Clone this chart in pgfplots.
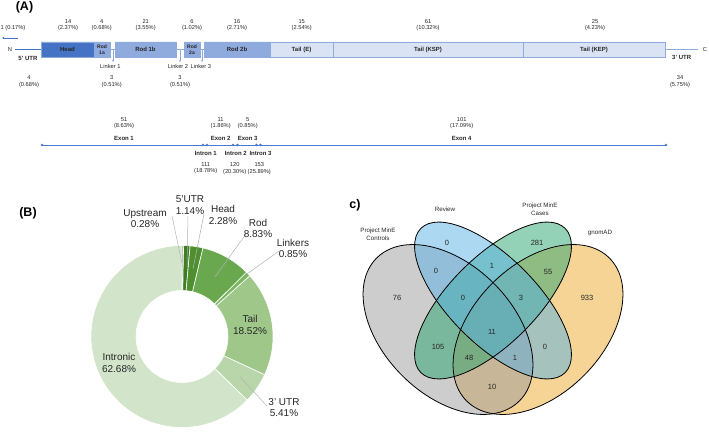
\documentclass[border=0pt]{standalone}
\usepackage{pgfplots}
\pgfplotsset{compat=1.18}
\usetikzlibrary{calc,arrows.meta}
\usepackage{fontspec}
\setmainfont{Liberation Sans}
\definecolor{headc}{HTML}{4472C4}
\definecolor{rodc}{HTML}{8FAADC}
\definecolor{tailc}{HTML}{DAE3F3}
\definecolor{lnc}{HTML}{4A7BD0}
\definecolor{txt}{HTML}{262626}
\definecolor{gA}{HTML}{38761D}
\definecolor{gB}{HTML}{3F7D24}
\definecolor{gC}{HTML}{4E8F30}
\definecolor{gD}{HTML}{6AA84F}
\definecolor{gE}{HTML}{7DB763}
\definecolor{gF}{HTML}{9FC78A}
\definecolor{gG}{HTML}{B8D6A9}
\definecolor{gH}{HTML}{D2E4C9}
\definecolor{vgrey}{RGB}{155,155,155}
\definecolor{vblue}{RGB}{89,177,229}
\definecolor{vgreen}{RGB}{41,165,111}
\definecolor{vorange}{RGB}{235,169,45}
\tikzset{
 sm/.style={font=\fontsize{5.7bp}{6.6bp}\selectfont, align=center, inner sep=0pt, text=txt},
 smb/.style={font=\fontsize{6bp}{6.6bp}\selectfont\bfseries, align=center, inner sep=0pt, text=txt},
 rb/.style={font=\fontsize{5bp}{6bp}\selectfont\bfseries, align=center, inner sep=0pt, text=txt},
 pl/.style={font=\fontsize{10bp}{11.7bp}\selectfont, align=center, inner sep=0pt, text=txt},
 vt/.style={font=\fontsize{6.2bp}{7.6bp}\selectfont, align=center, inner sep=0pt, text=txt},
 vn/.style={font=\fontsize{7.5bp}{8bp}\selectfont, inner sep=0pt, text=txt},
 pan/.style={font=\fontsize{12.5bp}{13bp}\selectfont\bfseries, inner sep=0pt, text=black},
 lead/.style={draw=black!30, line width=0.5bp},
}
% donut slice: start (cumulative %), value (%), colour
\newcommand{\donutslice}[3]{%
 \fill[#3, draw=white, line width=0.6bp]
  ($(axis cs:182,336.5)+({90-3.6*#1}:91bp)$)
  arc[start angle={90-3.6*#1}, end angle={90-3.6*(#1+#2)}, radius=91bp]
  -- ($(axis cs:182,336.5)+({90-3.6*(#1+#2)}:46bp)$)
  arc[start angle={90-3.6*(#1+#2)}, end angle={90-3.6*#1}, radius=46bp] -- cycle;}
\newcommand{\vellipse}[6]{% x,y,angle,a,b,style
 \path[#6, rotate around={#3:(axis cs:#1,#2)}] (axis cs:#1,#2) ellipse [x radius=#4bp, y radius=#5bp];}
\begin{document}
\begin{tikzpicture}
\begin{axis}[width=709bp,height=432bp,scale only axis,
  xmin=0,xmax=709,ymin=0,ymax=432,y dir=reverse,hide axis,clip=false]
\coordinate (TL) at (axis cs:0,0);
\coordinate (BR) at (axis cs:709,432);
% ---------- Panel A: protein ----------
\addplot[rodc, line width=0.7bp] coordinates {(41,49.5) (665,49.5)};
\addplot[headc, line width=0.8bp] coordinates {(15,49.5) (41,49.5)};
\addplot[rodc, line width=0.6bp] coordinates {(665,49.5) (698,49.5)};
\addplot[fill=headc, draw=rodc, line width=0.5bp] coordinates {(41,42) (94,42) (94,57) (41,57) (41,42)};
\addplot[fill=rodc, draw=rodc, line width=0.5bp] coordinates {(94,42) (110,42) (110,57) (94,57) (94,42)};
\addplot[fill=rodc, draw=rodc, line width=0.5bp] coordinates {(115,42) (176,42) (176,57) (115,57) (115,42)};
\addplot[fill=rodc, draw=rodc, line width=0.5bp] coordinates {(184,42) (200,42) (200,57) (184,57) (184,42)};
\addplot[fill=rodc, draw=rodc, line width=0.5bp] coordinates {(204,42) (270,42) (270,57) (204,57) (204,42)};
\addplot[fill=tailc, draw=rodc, line width=0.5bp] coordinates {(270,42) (333,42) (333,57) (270,57) (270,42)};
\addplot[fill=tailc, draw=rodc, line width=0.5bp] coordinates {(333,42) (523,42) (523,57) (333,57) (333,42)};
\addplot[fill=tailc, draw=rodc, line width=0.5bp] coordinates {(523,42) (665,42) (665,57) (523,57) (523,42)};
% linker arrows
\addplot[rodc, line width=0.6bp, -{Stealth[length=2.2bp,width=2bp]}] coordinates {(113,50) (113,62)};
\addplot[rodc, line width=0.6bp, -{Stealth[length=2.2bp,width=2bp]}] coordinates {(180,50) (180,62)};
\addplot[rodc, line width=0.6bp, -{Stealth[length=2.2bp,width=2bp]}] coordinates {(202,50) (202,62)};
\addplot[headc, line width=0.8bp, -{Stealth[length=2.5bp,width=2.2bp]}] coordinates {(18,38) (2,38)};
% exon line
\addplot[lnc, line width=0.8bp] coordinates {(42,145) (666,145)};
\addplot[only marks, mark=*, mark size=1.1bp, lnc] coordinates {(42,145) (203,145) (207,145) (233,145) (237.5,145) (256.5,145) (260.5,145) (666,145)};
% ---------- Panel B: donut ----------
\donutslice{0}{0.28}{gA}
\donutslice{0.28}{1.14}{gB}
\donutslice{1.42}{2.28}{gC}
\donutslice{3.70}{8.83}{gD}
\donutslice{12.53}{0.85}{gE}
\donutslice{13.38}{18.52}{gF}
\donutslice{31.90}{5.41}{gG}
\donutslice{37.31}{62.69}{gH}
\addplot[lead] coordinates {(172,216) (183,268)};
\addplot[lead] coordinates {(188,216) (187,267)};
\addplot[lead] coordinates {(204,214) (193,269)};
\addplot[lead] coordinates {(246,234) (215,277)};
\addplot[lead] coordinates {(279,251) (247,274)};
\addplot[lead] coordinates {(267,406) (240,377)};
% ---------- Panel C: Venn ----------
\vellipse{538}{329.5}{45}{101}{65}{fill=vorange, fill opacity=0.5}
\vellipse{448}{329.5}{-45}{101}{65}{fill=vgrey, fill opacity=0.5}
\vellipse{493}{300.5}{45}{102}{43.5}{fill=vgreen, fill opacity=0.5}
\vellipse{493}{300.5}{-45}{102}{43.5}{fill=vblue, fill opacity=0.5}
\vellipse{538}{329.5}{45}{101}{65}{draw=black, line width=0.8bp}
\vellipse{448}{329.5}{-45}{101}{65}{draw=black, line width=0.8bp}
\vellipse{493}{300.5}{45}{102}{43.5}{draw=black, line width=0.8bp}
\vellipse{493}{300.5}{-45}{102}{43.5}{draw=black, line width=0.8bp}
% ---------- Text ----------
\node[pan] at (axis cs:24.5,7.5) {(A)};
\node[pan] at (axis cs:28,213) {(B)};
\node[pan] at (axis cs:355,205) {c)};
% panel A top numbers
\node[sm] at (axis cs:13,28.3) {1 (0.17\%)};
\node[sm] at (axis cs:68,25) {14\\(2.37\%)};
\node[sm] at (axis cs:101.7,25) {4\\(0.68\%)};
\node[sm] at (axis cs:145.7,25) {21\\(3.55\%)};
\node[sm] at (axis cs:192,25) {6\\(1.02\%)};
\node[sm] at (axis cs:237,25) {16\\(2.71\%)};
\node[sm] at (axis cs:301.7,25) {15\\(2.54\%)};
\node[sm] at (axis cs:428,25) {61\\(10.32\%)};
\node[sm] at (axis cs:595,25) {25\\(4.23\%)};
% segment labels
\node[smb] at (axis cs:67.5,49.5) {Head};
\node[rb] at (axis cs:102,49.5) {Rod\\1a};
\node[smb] at (axis cs:145.5,49.5) {Rod 1b};
\node[rb] at (axis cs:192,49.5) {Rod\\2a};
\node[smb] at (axis cs:237,49.5) {Rod 2b};
\node[smb] at (axis cs:301.5,49.5) {Tail (E)};
\node[smb] at (axis cs:428,49.5) {Tail (KSP)};
\node[smb] at (axis cs:594,49.5) {Tail (KEP)};
\node[sm] at (axis cs:10,49.5) {N};
\node[sm] at (axis cs:705,49.5) {C};
\node[smb] at (axis cs:28,58.3) {5' UTR};
\node[smb] at (axis cs:681.7,57) {3' UTR};
\node[sm] at (axis cs:110.3,66.7) {Linker 1};
\node[sm] at (axis cs:178,66.7) {Linker 2};
\node[sm] at (axis cs:200.8,66.7) {Linker 3};
\node[sm] at (axis cs:29,81.7) {4\\(0.68\%)};
\node[sm] at (axis cs:111.7,81.7) {3\\(0.51\%)};
\node[sm] at (axis cs:180,81.7) {3\\(0.51\%)};
\node[sm] at (axis cs:680,81.7) {34\\(5.75\%)};
% exons / introns
\node[sm] at (axis cs:124,123.2) {51\\(8.63\%)};
\node[sm] at (axis cs:220.7,123.2) {11\\(1.86\%)};
\node[sm] at (axis cs:247.7,123.2) {5\\(0.85\%)};
\node[sm] at (axis cs:461.7,123.2) {101\\(17.09\%)};
\node[smb] at (axis cs:124,138.3) {Exon 1};
\node[smb] at (axis cs:220.7,138.3) {Exon 2};
\node[smb] at (axis cs:247.7,138.3) {Exon 3};
\node[smb] at (axis cs:461.7,138.3) {Exon 4};
\node[smb] at (axis cs:205.8,153.3) {Intron 1};
\node[smb] at (axis cs:235.8,153.3) {Intron 2};
\node[smb] at (axis cs:260.5,153.3) {Intron 3};
\node[sm] at (axis cs:205.8,168.3) {111\\(18.78\%)};
\node[sm] at (axis cs:234.7,168.3) {120\\(20.30\%)};
\node[sm] at (axis cs:259.3,168.3) {153\\(25.89\%)};
% donut labels
\node[pl] at (axis cs:145,218.5) {Upstream\\0.28\%};
\node[pl] at (axis cs:190,205) {5'UTR\\1.14\%};
\node[pl] at (axis cs:223,215) {Head\\2.28\%};
\node[pl] at (axis cs:258,228.5) {Rod\\8.83\%};
\node[pl] at (axis cs:293,248.5) {Linkers\\0.85\%};
\node[pl] at (axis cs:250,325) {Tail\\18.52\%};
\node[pl] at (axis cs:119,363) {Intronic\\62.68\%};
\node[pl] at (axis cs:284,407.5) {3' UTR\\5.41\%};
% venn labels
\node[vt] at (axis cs:378,234) {Project MinE\\Controls};
\node[vt] at (axis cs:445,209) {Review};
\node[vt] at (axis cs:540,209) {Project MinE\\Cases};
\node[vt] at (axis cs:600,233) {gnomAD};
\node[vn] at (axis cs:447,243) {0};
\node[vn] at (axis cs:537,243) {281};
\node[vn] at (axis cs:436,271) {0};
\node[vn] at (axis cs:492,266) {1};
\node[vn] at (axis cs:548,272) {55};
\node[vn] at (axis cs:397,298) {76};
\node[vn] at (axis cs:463,298) {0};
\node[vn] at (axis cs:521,298) {3};
\node[vn] at (axis cs:587,298) {933};
\node[vn] at (axis cs:492,332) {11};
\node[vn] at (axis cs:438,347) {105};
\node[vn] at (axis cs:545,347) {0};
\node[vn] at (axis cs:469,358) {48};
\node[vn] at (axis cs:515,358) {1};
\node[vn] at (axis cs:492,387) {10};
\end{axis}
\pgfresetboundingbox
\useasboundingbox (TL) rectangle (BR);
\end{tikzpicture}
\end{document}
